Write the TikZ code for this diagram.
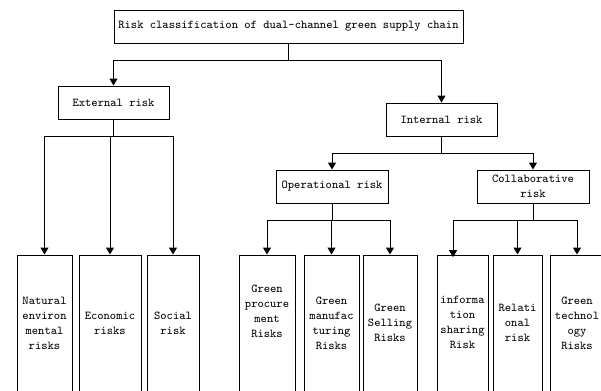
\documentclass[tikz,border=0pt]{standalone}
\usepackage{fontspec}
\usepackage{tikz}
\usetikzlibrary{arrows.meta}

\begin{document}
\begin{tikzpicture}[x=0.75pt, y=-0.75pt,
	every node/.style={font=\ttfamily\fontsize{9}{11.25}\selectfont},
	>={Triangle[length=5.25pt, width=6pt]},
	line width=0.75pt,
	box/.style={draw, inner sep=0pt, align=center, minimum height=33*0.75pt, minimum width=#1*0.75pt},
	leaf/.style={draw, inner sep=0pt, align=center, minimum height=136*0.75pt, minimum width=#1*0.75pt}]
	\useasboundingbox (0,0) rectangle (601,390);
	% levels 1 to 3
	\node[box=349] (top) at (288.5,26.5) {Risk classification of dual-channel green supply chain};
	\node[box=111] (ext) at (113.5,102.5) {External risk};
	\node[box=111] (int) at (441.5,119.5) {Internal risk};
	\node[box=112] (oper) at (332,186.5) {Operational risk};
	\node[box=112] (coll) at (533,186.5) {Collaborative\\risk};
	% leaves
	\node[leaf=55] (nat) at (44.5,323) {Natural\\environ\\mental\\risks};
	\node[leaf=62] (econ) at (110,323) {Economic\\risks};
	\node[leaf=52] (soc) at (173,323) {Social\\risk};
	\node[leaf=56] (proc) at (267,323) {Green\\procure\\ment\\Risks\\[7pt]};
	\node[leaf=55] (manu) at (331.5,323) {Green\\manufac\\turing\\Risks};
	\node[leaf=54] (sell) at (390,323) {Green\\Selling\\Risks};
	\node[leaf=51] (info) at (462.5,323) {\\[-7pt]informa\\tion\\sharing\\Risk};
	\node[leaf=49] (rel) at (517.5,323) {Relati\\onal\\risk};
	\node[leaf=54] (tech) at (577,323) {Green\\technol\\ogy\\Risks};
	% connectors
	\draw[->] (top.south) -- ++(0,17) -| (ext.north);
	\draw[->] (top.south) -- ++(0,17) -| (int.north);
	\draw[->] (ext.south) -- ++(0,17) -| (nat.north);
	\draw[->] (ext.south) -- ++(0,17) -| (econ.north);
	\draw[->] (ext.south) -- ++(0,17) -| (soc.north);
	\draw[->] (int.south) -- ++(0,17) -| (oper.north);
	\draw[->] (int.south) -- ++(0,17) -| (coll.north);
	\draw[->] (oper.south) -- ++(0,17) -| (proc.north);
	\draw[->] (oper.south) -- ++(0,17) -| (manu.north);
	\draw[->] (oper.south) -- ++(0,17) -| (sell.north);
	\draw[->] (coll.south) -- ++(0,17) -| ([xshift=-7.1pt, yshift=-2pt]info.north);
	\draw[->] (coll.south) -- ++(0,17) -| (rel.north);
	\draw[->] (coll.south) -- ++(0,17) -| (tech.north);
\end{tikzpicture}
\end{document}
